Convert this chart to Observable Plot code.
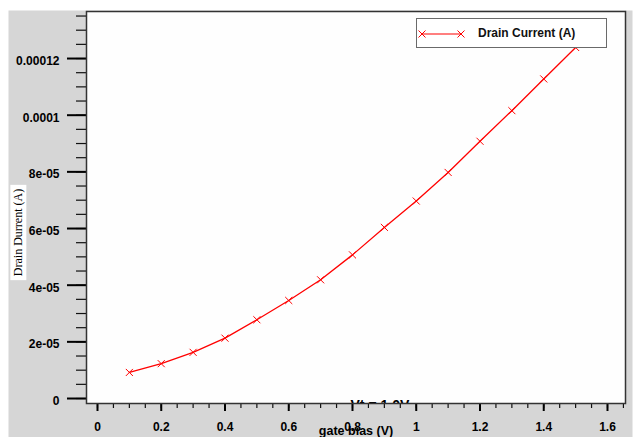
<!DOCTYPE html>
<html>
<head>
<meta charset="utf-8">
<script src="https://cdn.jsdelivr.net/npm/d3@7"></script>
<script src="https://cdn.jsdelivr.net/npm/@observablehq/plot@0.6"></script>
<style>
  body { margin: 0; background: #fff; }
  #wrap { position: relative; width: 636px; height: 437px; overflow: hidden; }
  .legend {
    position: absolute; left: 416px; top: 18px; width: 189px; height: 28px;
    border: 1px solid #6a6a6a; background: #fff;
    font: bold 12px "Liberation Sans", Arial, sans-serif; color: #111;
  }
  .legend svg { position: absolute; left: 0; top: 0; }
  .legend span { position: absolute; left: 61px; top: 7px; white-space: nowrap; }
</style>
</head>
<body>
<div id="wrap"></div>
<script>
// ---- data ----
const gateBias = [0.1, 0.2, 0.3, 0.4, 0.5, 0.6, 0.7, 0.8, 0.9, 1.0, 1.1, 1.2, 1.3, 1.4, 1.5];
const drainCurrent = [9.2e-6, 1.23e-5, 1.63e-5, 2.13e-5, 2.78e-5, 3.46e-5, 4.19e-5, 5.07e-5,
                      6.04e-5, 6.97e-5, 7.98e-5, 9.08e-5, 1.016e-4, 1.128e-4, 1.239e-4];
const seriesName = "Drain Current (A)";
const xTicks = [0, 0.2, 0.4, 0.6, 0.8, 1.0, 1.2, 1.4, 1.6];
const xTickLabels = ["0", "0.2", "0.4", "0.6", "0.8", "1", "1.2", "1.4", "1.6"];
const xMinorTicks = [0, 0.05, 0.1, 0.15, 0.2, 0.25, 0.3, 0.35, 0.4, 0.45, 0.5, 0.55, 0.6, 0.65,
                     0.7, 0.75, 0.8, 0.85, 0.9, 0.95, 1.0, 1.05, 1.1, 1.15, 1.2, 1.25, 1.3, 1.35,
                     1.4, 1.45, 1.5, 1.55, 1.6, 1.65];
const yTicks = [0, 2e-5, 4e-5, 6e-5, 8e-5, 1e-4, 1.2e-4];
const yTickLabels = ["0", "2e-05", "4e-05", "6e-05", "8e-05", "0.0001", "0.00012"];
const yMinorTicks = [0, 5e-6, 1e-5, 1.5e-5, 2e-5, 2.5e-5, 3e-5, 3.5e-5, 4e-5, 4.5e-5, 5e-5, 5.5e-5,
                     6e-5, 6.5e-5, 7e-5, 7.5e-5, 8e-5, 8.5e-5, 9e-5, 9.5e-5, 1e-4, 1.05e-4, 1.1e-4,
                     1.15e-4, 1.2e-4, 1.25e-4, 1.3e-4, 1.35e-4];
const xLabel = "gate bias (V)";
const yLabel = "Drain Durrent (A)";
const notes = [{x: 0.886, label: "Vt = 1.0V"}];

const data = gateBias.map((x, i) => ({x, y: drainCurrent[i]}));
const RED = "#ff0000";
const FONT = '"Liberation Sans", Arial, sans-serif';

const plot = Plot.plot({
  width: 636,
  height: 437,
  marginLeft: 86,
  marginRight: 11,
  marginTop: 11,
  marginBottom: 34,
  style: {fontFamily: FONT, fontSize: "12px", fontWeight: "bold", background: "#fff", color: "#000"},
  x: {domain: [-0.0345, 1.6565]},
  y: {domain: [-1.76e-6, 1.366e-4]},
  marks: [
    // grey panel + white plotting area
    Plot.frame({fill: "#d6d6d6", insetLeft: -78, insetTop: -1, insetRight: -7, insetBottom: -34}),
    Plot.frame({fill: "#fefefe"}),
    // y axis
    Plot.axisY(yMinorTicks, {tickSize: 10, text: null, stroke: "#111", strokeWidth: 1.2, label: null}),
    Plot.axisY(yTicks, {tickSize: 19, text: null, stroke: "#000", strokeWidth: 2, label: null}),
    Plot.axisY(yTicks, {tickSize: 0, tickPadding: 27, dy: 2.5, label: null, fill: "#000",
      tickFormat: d => yTickLabels[yTicks.indexOf(d)]}),
    // x axis
    Plot.axisX(xMinorTicks, {tickSize: 5, text: null, stroke: "#111", strokeWidth: 1.2, label: null}),
    Plot.axisX(xTicks, {tickSize: 8, text: null, stroke: "#000", strokeWidth: 2, label: null}),
    Plot.axisX(xTicks, {tickSize: 0, tickPadding: 18.5, label: null, fill: "#000",
      tickFormat: d => xTickLabels[xTicks.indexOf(d)]}),
    // data
    Plot.line(data, {x: "x", y: "y", stroke: RED, strokeWidth: 1.3}),
    Plot.dot(data, {x: "x", y: "y", symbol: "times", r: 3.3, stroke: RED, strokeWidth: 1}),
    // annotation clipped by the frame
    Plot.text(notes, {x: "x", text: "label", frameAnchor: "bottom", lineAnchor: "bottom",
      dy: 6, fontSize: 14, fill: "#000", clip: true}),
    // frame border
    Plot.frame({stroke: "#333", strokeWidth: 1.5}),
    // axis titles
    Plot.text([xLabel], {text: d => d, frameAnchor: "bottom", lineAnchor: "bottom", dy: 31,
      fontSize: 12.5, fill: "#000"}),
    Plot.text([yLabel], {text: d => d, frameAnchor: "left", textAnchor: "middle", dx: -68, dy: 25,
      rotate: -90, fontFamily: '"Liberation Serif", "Times New Roman", serif', fontWeight: "normal",
      fontSize: 12, fill: "#000"})
  ]
});

const wrap = document.getElementById("wrap");
wrap.appendChild(plot);

// white box behind the rotated y label
d3.select(plot).selectAll("text").each(function() {
  if (this.textContent === yLabel) {
    const b = this.getBBox();
    const rect = document.createElementNS("http://www.w3.org/2000/svg", "rect");
    rect.setAttribute("x", b.x - 4);
    rect.setAttribute("y", b.y - 1);
    rect.setAttribute("width", b.width + 8);
    rect.setAttribute("height", b.height + 2);
    rect.setAttribute("fill", "#fff");
    const t = this.getAttribute("transform");
    if (t) rect.setAttribute("transform", t);
    this.parentNode.insertBefore(rect, this);
  }
});

// legend inside the plot
const legend = document.createElement("div");
legend.className = "legend";
legend.innerHTML =
  '<svg width="60" height="28">' +
  '<line x1="5" y1="15" x2="44" y2="15" stroke="' + RED + '" stroke-width="1.2"/>' +
  '<path d="M1.5,11.5L8.5,18.5M8.5,11.5L1.5,18.5M40.5,11.5L47.5,18.5M47.5,11.5L40.5,18.5" stroke="' + RED + '" stroke-width="1" fill="none"/>' +
  '</svg><span>' + seriesName + '</span>';
wrap.appendChild(legend);
</script>
</body>
</html>
